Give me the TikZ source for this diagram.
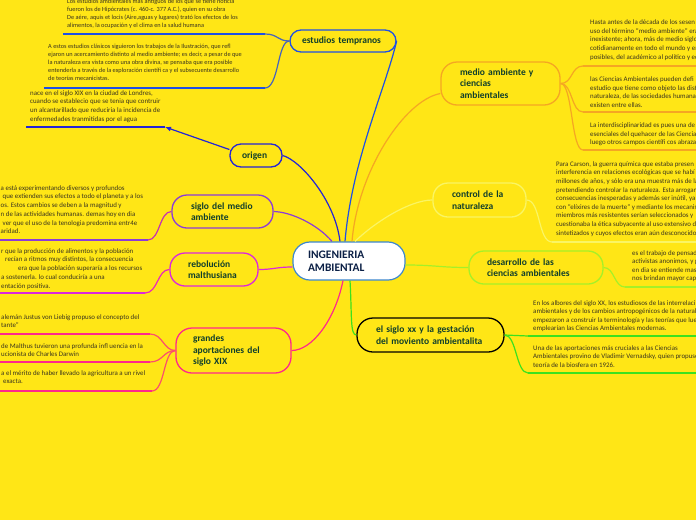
\documentclass[tikz,border=0pt]{standalone}
\usepackage{fontspec}
\setmainfont{Carlito}
\usetikzlibrary{arrows.meta}
\definecolor{bgY}{RGB}{255,230,22}
\definecolor{lbl}{RGB}{16,62,44}
\definecolor{ctrT}{RGB}{12,32,70}
\definecolor{ctx}{RGB}{58,52,30}
\definecolor{cCenter}{RGB}{60,135,205}
\definecolor{cBlueE}{RGB}{30,80,230}
\definecolor{cBlueO}{RGB}{36,36,215}
\definecolor{cPurple}{RGB}{140,60,215}
\definecolor{cMag}{RGB}{220,40,220}
\definecolor{cPink}{RGB}{255,40,140}
\definecolor{cOrange}{RGB}{245,166,35}
\definecolor{cLightY}{RGB}{250,245,100}
\definecolor{cLime}{RGB}{165,240,40}
\definecolor{cGreen}{RGB}{60,225,30}
\tikzset{
  bx/.style={draw, line width=1.3pt, align=left, inner ysep=0pt,
    font=\fontsize{9.5}{11.5}\selectfont\bfseries, text=lbl},
  ctext/.style={font=\fontsize{6.9}{8.7}\selectfont, text=ctx, align=left,
    inner sep=0pt, anchor=north west},
  ctextE/.style={ctext, font=\fontsize{6.3}{8.2}\selectfont},
  cn/.style={line width=1.2pt},
  ul/.style={line width=1.6pt},
}
\begin{document}
\begin{tikzpicture}[x=1pt,y=-1pt]
\useasboundingbox (0,0) rectangle (696,520);
\fill[bgY] (0,0) rectangle (696,520);

% ---- central node
\node[bx, fill=white, draw=cCenter, line width=1.2pt, rounded corners=17pt,
  minimum width=112pt, minimum height=38pt, inner xsep=15pt, text width=82pt,
  font=\fontsize{11.5}{13}\selectfont\bfseries, text=ctrT] (c) at (349,261) {INGENIERIA\\AMBIENTAL};

% ---- branch nodes
\node[bx, draw=cBlueE, rounded corners=11pt, minimum width=106pt, minimum height=22pt,
  inner xsep=12pt, text width=82pt] (est) at (343,41) {estudios~tempranos};
\node[bx, draw=cBlueO, rounded corners=11pt, minimum width=52pt, minimum height=23pt,
  inner xsep=12pt, text width=28pt] (origen) at (256,155.5) {origen};
\node[bx, draw=cPurple, rounded corners=15pt, minimum width=101pt, minimum height=33pt,
  inner xsep=19pt, text width=63pt] (siglo) at (222.5,211.5) {siglo~del~medio\\ambiente};
\node[bx, draw=cMag, rounded corners=15pt, minimum width=88pt, minimum height=33pt,
  inner xsep=18pt, text width=52pt] (rebol) at (214,269.5) {rebolución\\malthusiana};
\node[bx, draw=cPink, rounded corners=16pt, minimum width=115pt, minimum height=45pt,
  inner xsep=17pt, text width=81pt] (grandes) at (233.5,350.5) {grandes\\aportaciones~del\\siglo~XIX};
\node[bx, draw=cOrange, rounded corners=16pt, minimum width=119pt, minimum height=43pt,
  inner xsep=19pt, text width=81pt] (medio) at (500.5,83.5) {medio~ambiente~y\\ciencias\\ambientales};
\node[bx, draw=cLightY, rounded corners=15pt, minimum width=93pt, minimum height=34pt,
  inner xsep=19pt, text width=55pt] (control) at (479.5,200) {control~de~la\\naturaleza};
\node[bx, draw=cLime, rounded corners=15pt, minimum width=134pt, minimum height=33pt,
  inner xsep=18pt, text width=98pt] (desar) at (536,267.5) {desarrollo~de~las\\ciencias~ambientales};
\node[bx, draw=black, rounded corners=16pt, minimum width=147pt, minimum height=34pt,
  inner xsep=19pt, text width=109pt] (sxx) at (430.5,335) {el~siglo~xx~y~la~gestación\\del~moviento~ambientalita};

% ---- connectors centre -> branches
\draw[cn, cBlueE] ([xshift=-4pt]c.north) .. controls (352,160) and (385,90) .. (est.east);
\draw[cn, cBlueO] ([xshift=-9pt]c.north) .. controls (335,200) and (300,160) .. (origen.east);
\draw[cn, cPurple] ([xshift=-17pt]c.north) .. controls (318,225) and (292,212) .. (siglo.east);
\draw[cn, cMag] ([yshift=-6pt]c.west) .. controls (276,267) and (274,269.5) .. (rebol.east);
\draw[cn, cPink] ([xshift=-6pt]c.south) .. controls (335,320) and (312,350.5) .. (grandes.east);
\draw[cn, cOrange] ([xshift=3pt]c.north) .. controls (358,170) and (405,100) .. ([yshift=-10pt]medio.west);
\draw[cn, cLightY] ([xshift=6pt]c.north) .. controls (375,222) and (410,200) .. (control.west);
\draw[cn, cLime] ([yshift=-4pt]c.east) .. controls (435,265) and (440,267.5) .. (desar.west);
\draw[cn, cGreen] ([xshift=1pt]c.south) .. controls (352,315) and (350,335) .. (sxx.west);

% ---- estudios tempranos children
\node[ctextE] (t1) at (67,-1.4) {Los estudios ambientales más antiguos de los que se tiene noticia\\
fueron los de Hipócrates (c. 460-c. 377 A.C.), quien en su obra\\
De aére, aquis et locis (Aire,aguas y lugares) trató los efectos de los\\
alimentos, la ocupación y el clima en la salud humana};
\node[ctextE] (t2) at (48,43.6) {A estos estudios clásicos siguieron los trabajos de la Ilustración, que refl\\
ejaron un acercamiento distinto al medio ambiente; es decir, a pesar de que\\
la naturaleza era vista como una obra divina, se pensaba que era posible\\
entenderla a través de la exploración científi ca y el subsecuente desarrollo\\
de teorías mecanicistas.};
\coordinate (u1a) at (63,34); \coordinate (u1b) at (265,34);
\coordinate (u2a) at (44,88); \coordinate (u2b) at (265,88);
\draw[ul, cBlueE] (u1a) -- (u1b);
\draw[ul, cBlueE] (u2a) -- (u2b);
\draw[cn, cBlueE!60!gray] (u1b) .. controls +(13,0) and +(-12,0) .. (est.west);
\draw[cn, cBlueE!60!gray] (u2b) .. controls +(14,0) and +(-12,0) .. (est.west);

% ---- origen child
\node[ctext] (o1) at (30,90.3) {nace en el siglo XIX en la ciudad de Londres,\\
cuando se establecio que se tenia que contruir\\
un alcantarillado que reduciria la incidencia de\\
enfermedades tranmitidas por el agua};
\coordinate (o1a) at (26,127); \coordinate (o1b) at (165,127);
\draw[ul, cBlueO] (o1a) -- (o1b);
\draw[cn, cBlueO, -{Latex[length=6pt,width=5pt]}] ([yshift=6pt]origen.west) -- (o1b);

% ---- siglo del medio ambiente child
\node[ctext] (s1) at (0.5,185.3) {a está experimentando diversos y profundos\\
\hspace*{2pt}que extienden sus efectos a todo el planeta y a los\\
os. Estos cambios se deben a la magnitud y\\
n de las actividades humanas. demas hoy en dia\\
\hspace*{2pt}ver que el uso de la tenologia predomina entr4e\\
aridad.};
\coordinate (s1a) at (0,240); \coordinate (s1b) at (148,240);
\draw[ul, cPurple] (s1a) -- (s1b);
\draw[cn, cPurple!50!cPink] (s1b) .. controls +(12,0) and +(-12,0) .. (siglo.west);

% ---- rebolucion child
\node[ctext] (r1) at (1,248.3) {r que la producción de alimentos y la población\\
\hspace*{4pt}recían a ritmos muy distintos, la consecuencia\\
\hspace*{17pt}era que la población superaría a los recursos\\
a sostenerla. lo cual conduciría a una\\
entación positiva.};
\coordinate (r1a) at (0,293); \coordinate (r1b) at (145,293);
\draw[ul, cMag] (r1a) -- (r1b);
\draw[cn, cMag!60!cPink] (r1b) .. controls +(13,0) and +(-12,0) .. (rebol.west);

% ---- grandes aportaciones children
\node[ctext] (g1) at (1,314.3) {alemán Justus von Liebig propuso el concepto del\\
tante”};
\node[ctext] (g2) at (1,343.3) {de Malthus tuvieron una profunda infl uencia en la\\
ucionista de Charles Darwin};
\node[ctext] (g3) at (1,370.3) {a el mérito de haber llevado la agricultura a un rivel\\
\hspace*{2pt}exacta.};
\coordinate (g1a) at (0,334); \coordinate (g1b) at (150,334);
\coordinate (g2a) at (0,362); \coordinate (g2b) at (150,362);
\coordinate (g3a) at (0,391); \coordinate (g3b) at (152,391);
\draw[ul, cPink] (g1a) -- (g1b);
\draw[ul, cPink] (g2a) -- (g2b);
\draw[ul, cPink] (g3a) -- (g3b);
\draw[cn, cPink!70!cOrange] (g1b) .. controls +(13,0) and +(-12,0) .. (grandes.west);
\draw[cn, cPink!70!cOrange] (g2b) .. controls +(13,0) and +(-12,0) .. (grandes.west);
\draw[cn, cPink!70!cOrange] (g3b) .. controls +(13,0) and +(-12,0) .. (grandes.west);

% ---- medio ambiente children
\node[ctext, font=\fontsize{6.9}{8.8}\selectfont] (m1) at (590,19.3) {Hasta antes de la década de los sesen\\
uso del término “medio ambiente” era\\
inexistente; ahora, más de medio siglo\\
cotidianamente en todo el mundo y en\\
posibles, del académico al político y ec};
\node[ctext, font=\fontsize{6.9}{8.8}\selectfont] (m2) at (590,76.3) {las Ciencias Ambientales pueden defi\\
estudio que tiene como objeto las disti\\
naturaleza, de las sociedades humana\\
existen entre ellas.};
\node[ctext, font=\fontsize{6.9}{8.8}\selectfont] (m3) at (590,122.3) {La interdisciplinaridad es pues una de\\
esenciales del quehacer de las Ciencia\\
luego otros campos científi cos abraza};
\coordinate (m1a) at (583,66); \coordinate (m1b) at (696,66);
\coordinate (m2a) at (583,112); \coordinate (m2b) at (696,112);
\coordinate (m3a) at (583,150); \coordinate (m3b) at (696,150);
\draw[cn, cOrange] (medio.east) .. controls +(12,0) and +(-12,0) .. (m1a);
\draw[cn, cOrange] (medio.east) .. controls +(12,0) and +(-12,0) .. (m2a);
\draw[cn, cOrange] (medio.east) .. controls +(12,0) and +(-12,0) .. (m3a);
\draw[ul, cOrange] (m1a) -- (m1b);
\draw[ul, cOrange] (m2a) -- (m2b);
\draw[ul, cOrange] (m3a) -- (m3b);

% ---- control child
\node[ctext, font=\fontsize{6.9}{8.6}\selectfont] (k1) at (556,161.3) {Para Carson, la guerra química que estaba presen\\
interferencia en relaciones ecológicas que se habí\\
millones de años, y sólo era una muestra más de la\\
pretendiendo controlar la naturaleza. Esta arrogan\\
consecuencias inesperadas y además ser inútil, ya\\
con “elíxires de la muerte” y mediante los mecanis\\
miembros más resistentes serían seleccionados y\\
cuestionaba la ética subyacente al uso extensivo d\\
sintetizados y cuyos efectos eran aún desconocido};
\coordinate (k1a) at (552,242); \coordinate (k1b) at (696,242);
\draw[cn, cLightY] (control.east) .. controls +(14,0) and +(-14,0) .. (k1a);
\draw[ul, cLightY] (k1a) -- (k1b);

% ---- desarrollo child
\node[ctext, font=\fontsize{6.9}{8.5}\selectfont] (d1) at (632,250.3) {es el trabajo de pensad\\
activistas anonimos, y g\\
en dia se entiende mas\\
nos brindan mayor cap};
\coordinate (d1a) at (625,287); \coordinate (d1b) at (696,287);
\draw[cn, cLime] (desar.east) .. controls +(11,0) and +(-11,0) .. (d1a);
\draw[ul, cLime] (d1a) -- (d1b);

% ---- siglo xx children
\node[ctext, font=\fontsize{6.9}{8.5}\selectfont] (x1) at (533,300.3) {En los albores del siglo XX, los estudiosos de las interrelaci\\
ambientales y de los cambios antropogénicos de la natural\\
empezaron a construir la terminología y las teorías que lue\\
emplearían las Ciencias Ambientales modernas.};
\node[ctext, font=\fontsize{6.9}{8.5}\selectfont] (x2) at (533,345.3) {Una de las aportaciones más cruciales a las Ciencias\\
Ambientales provino de Vladimir Vernadsky, quien propuso\\
teoría de la biosfera en 1926.};
\coordinate (x1a) at (528,336); \coordinate (x1b) at (696,336);
\coordinate (x2a) at (528,373); \coordinate (x2b) at (696,373);
\draw[cn, cGreen] (sxx.east) .. controls +(12,0) and +(-12,0) .. (x1a);
\draw[cn, cGreen] (sxx.east) .. controls +(12,0) and +(-12,0) .. (x2a);
\draw[ul, cGreen] (x1a) -- (x1b);
\draw[ul, cGreen] (x2a) -- (x2b);
\end{tikzpicture}
\end{document}
